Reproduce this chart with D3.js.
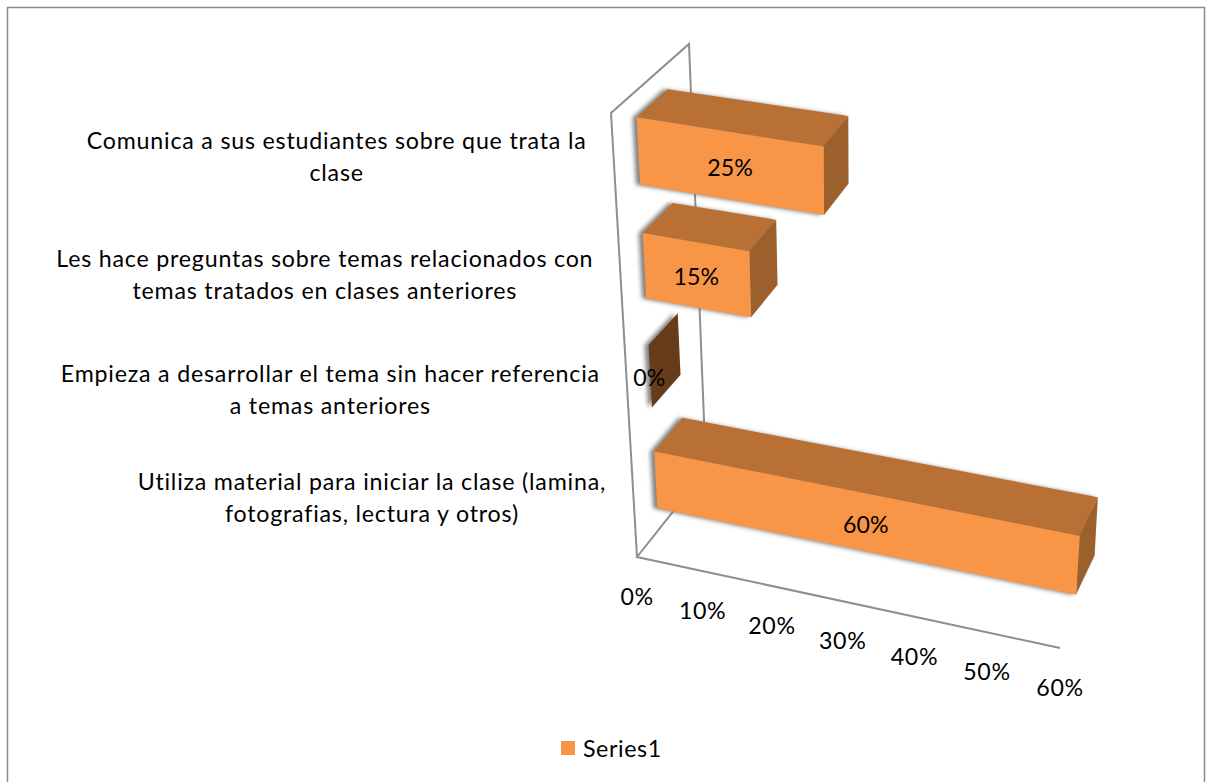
<!DOCTYPE html>
<html><head><meta charset="utf-8">
<script src="https://cdn.jsdelivr.net/npm/d3@7"></script>
<style>html,body{margin:0;padding:0;background:#fff}svg{display:block}text{font-family:Lato,"Noto Sans",sans-serif;fill:#000}</style>
</head><body><svg id="c" width="1207" height="782"></svg>
<script>
// Data (top of the chart first)
const categories = [
  ["Comunica a sus estudiantes sobre que trata la","clase"],
  ["Les hace preguntas sobre temas relacionados con","temas tratados en clases anteriores"],
  ["Empieza a desarrollar el tema sin hacer referencia","a temas anteriores"],
  ["Utiliza material para iniciar la clase (lamina,","fotografias, lectura y otros)"]
];
const values = [25, 15, 0, 60];
const tickValues = [0, 10, 20, 30, 40, 50, 60];
const seriesName = "Series1";

// Projection: the corners of the 3D chart box on the page
const box = {
  "000":[637,557],"001":[706,470],"010":[611,113],"011":[689,44],
  "100":[1060,648],"101":[1107,549],"110":[1092,190],"111":[1129,105]
};
const FS = 23.2;
const colors = {front:"#F99547",top:"#B97034",side:"#9C602C",zero:"#663C1B",line:"#8E8E8E"};
const depthFront = 0.31, depthBack = 0.71;

const uScale = d3.scalePow().exponent(1.04).domain([0,60]).range([0,1]);
const bandScale = d3.scaleBand().domain(d3.range(categories.length).reverse()).range([0.012,0.998]).paddingInner(0.42).paddingOuter(0.21);
const hScale = d3.scalePow().exponent(1.09).domain([0,1]).range([0,1]);

function project(v,t,w){
  const u=uScale(v), h=hScale(t), out=[0,0];
  for(const a of [0,1])for(const b of [0,1])for(const c of [0,1]){
    const k=(a?u:1-u)*(b?h:1-h)*(c?w:1-w), p=box[""+a+b+c];
    out[0]+=k*p[0]; out[1]+=k*p[1];
  }
  return out;
}
const svg=d3.select("#c");
const line=d3.line();
const defs=svg.append("defs");
defs.append("filter").attr("id","blur").attr("x","-20%").attr("y","-20%").attr("width","140%").attr("height","140%")
  .append("feGaussianBlur").attr("stdDeviation",2);

// Outer frame
svg.append("path").attr("d","M7.5,782V7.5H1204.5V782").attr("fill","none").attr("stroke","#8a8a8a").attr("stroke-width",1.5);

// Walls and floor
const wallG=svg.append("g").attr("fill","none").attr("stroke",colors.line).attr("stroke-width",2);
wallG.append("path").attr("d",line([project(0,0,0),project(0,1,0),project(0,1,1),project(0,0,1),project(0,0,0),project(60,0,0)]));

// Bars
const bars=svg.append("g");
values.forEach((v,i)=>{
  const t0=bandScale(i), t1=t0+bandScale.bandwidth();
  const fbl=project(0,t0,depthFront), ftl=project(0,t1,depthFront),
        fbr=project(v,t0,depthFront), ftr=project(v,t1,depthFront),
        bbl=project(0,t0,depthBack), btl=project(0,t1,depthBack),
        bbr=project(v,t0,depthBack), btr=project(v,t1,depthBack);
  const poly=(pts,fill)=>bars.append("path").attr("d",line(pts)+"Z").attr("fill",fill);
  poly([fbl,ftl,btl,btr,bbr,fbr],"#6a6a6a").attr("filter","url(#blur)").attr("opacity",0.85).attr("transform","translate(-4,0)");
  if(v===0){
    poly([fbl,ftl,btl,bbl],colors.zero);
  }else{
    poly([ftl,btl,btr,ftr],colors.top);
    poly([ftr,btr,bbr,fbr],colors.side);
    poly([fbl,ftl,ftr,fbr],colors.front);
  }
});

// Value labels
values.forEach((v,i)=>{
  const t0=bandScale(i), t1=t0+bandScale.bandwidth();
  const pts=[project(0,t0,depthFront),project(0,t1,depthFront),project(v,t1,depthFront),project(v,t0,depthFront)];
  svg.append("text").attr("x",d3.mean(pts,d=>d[0])-1).attr("y",d3.mean(pts,d=>d[1])+1)
    .attr("text-anchor","middle").attr("dominant-baseline","central").attr("font-size",FS).text(v+"%");
});

// Category labels
categories.forEach((lines,i)=>{
  const t=bandScale(i)+bandScale.bandwidth()/2;
  const cy=project(0,t,depthFront)[1]+18.3-15.5*t;
  const right=project(0,t,0)[0]-28;
  const g=svg.append("g").attr("letter-spacing",0.8);
  const nodes=lines.map((s,j)=>g.append("text").attr("y",cy+(j-0.5)*32).attr("dominant-baseline","central")
    .attr("text-anchor","middle").attr("font-size",FS).text(s));
  const w=d3.max(nodes,n=>n.node().getComputedTextLength());
  nodes.forEach(n=>n.attr("x",right-w/2));
});

// Tick labels
tickValues.forEach(v=>{
  const p=project(v,0,0);
  svg.append("text").attr("x",p[0]).attr("y",p[1]+39).attr("text-anchor","middle").attr("letter-spacing",0.6)
    .attr("dominant-baseline","central").attr("font-size",FS).text(v+"%");
});

// Legend
svg.append("rect").attr("x",561).attr("y",741).attr("width",14).attr("height",14).attr("fill",colors.front);
svg.append("text").attr("x",583).attr("y",748).attr("dominant-baseline","central").attr("letter-spacing",0.6).attr("font-size",FS).text(seriesName);
</script></body></html>
